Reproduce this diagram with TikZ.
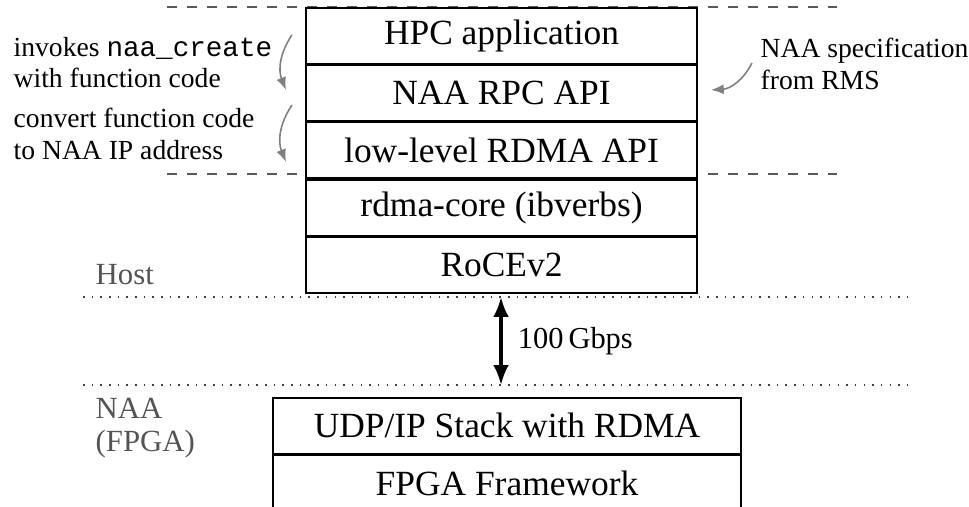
\documentclass[tikz,border=0pt]{standalone}
\usepackage{fontspec}
\setmainfont{Liberation Serif}
\setmonofont{Liberation Mono}
\usetikzlibrary{arrows.meta}
\tikzset{
  layer/.style={draw, fill=white, line width=0.5pt, inner sep=0pt,
    minimum height=15.7pt, font=\fontsize{10}{12}\selectfont},
  hostlayer/.style={layer, minimum width=110.46pt},
  naalayer/.style={layer, minimum width=132.2pt},
  dashline/.style={draw=black!65, line width=0.45pt, dash pattern=on 2.83pt off 2.83pt},
  dotline/.style={draw=black!75, line width=0.45pt, dotted},
  zone/.style={text=black!67, inner sep=0pt, align=left, font=\fontsize{8.7}{9.4}\selectfont},
  note/.style={inner sep=0pt, align=left, font=\fontsize{7.8}{9}\selectfont},
  notearrow/.style={draw=black!50, line width=0.45pt, -{Latex[length=3.6pt,width=2.8pt]}},
  linkarrow/.style={line width=0.9pt, {Latex[length=5.6pt,width=4.4pt]}-{Latex[length=5.6pt,width=4.4pt]}},
}
\begin{document}
\begin{tikzpicture}[x=0.2825pt, y=-0.2825pt]
\path[use as bounding box] (0,0) rectangle (969,507);

% dashed guide lines (behind the stack)
\draw[dashline] (167,7) -- (837,7);
\draw[dashline] (167,174) -- (837,174);

% host stack
\node[hostlayer, anchor=north] (hpc) at (501.5,7) {HPC application};
\node[hostlayer, anchor=north] (rpc) at (hpc.south) {NAA RPC API};
\node[hostlayer, anchor=north] (llapi) at (rpc.south) {low-level RDMA API};
\node[hostlayer, anchor=north] (core) at (llapi.south) {rdma-core (ibverbs)};
\node[hostlayer, anchor=north] (roce) at (core.south) {RoCEv2};

% NAA stack
\node[naalayer, anchor=north] (udp) at (507,397) {UDP/IP Stack with RDMA};
\node[naalayer, anchor=north] (fw) at (udp.south) {FPGA Framework};

% dotted separators
\coordinate (hostline) at (501,297);
\coordinate (naaline) at (501,385);
\draw[dotline] (83,297) -- (912,297);
\draw[dotline] (83,385) -- (912,385);

% zone labels
\node[zone, anchor=base west] (hostlbl) at (95,285) {Host};
\node[zone, anchor=north west] (naalbl) at (95,397.5) {NAA\\(FPGA)};

% link
\draw[linkarrow] (hostline) -- node[right, inner sep=0pt, xshift=4.3pt,
  font=\fontsize{8.6}{10}\selectfont] (speed) {100\,Gbps} (naaline);

% annotations
\node[note, anchor=north west] (n1) at (13,36.2) {invokes \texttt{naa\_create}\\with function code};
\node[note, anchor=north west] (n2) at (13,107.5) {convert function code\\to NAA IP address};
\node[note, anchor=north west] (n3) at (760,37.5) {NAA specification\\from RMS};

\coordinate (a1s) at (292,35);
\coordinate (a1e) at (286,90);
\coordinate (a2s) at (292,105);
\coordinate (a2e) at (286,162);
\coordinate (a3s) at (752,63);
\coordinate (a3e) at (711,90);
\draw[notearrow] (a1s) to[bend right=28] (a1e);
\draw[notearrow] (a2s) to[bend right=28] (a2e);
\draw[notearrow] (a3s) to[bend left=30] (a3e);
\end{tikzpicture}
\end{document}
